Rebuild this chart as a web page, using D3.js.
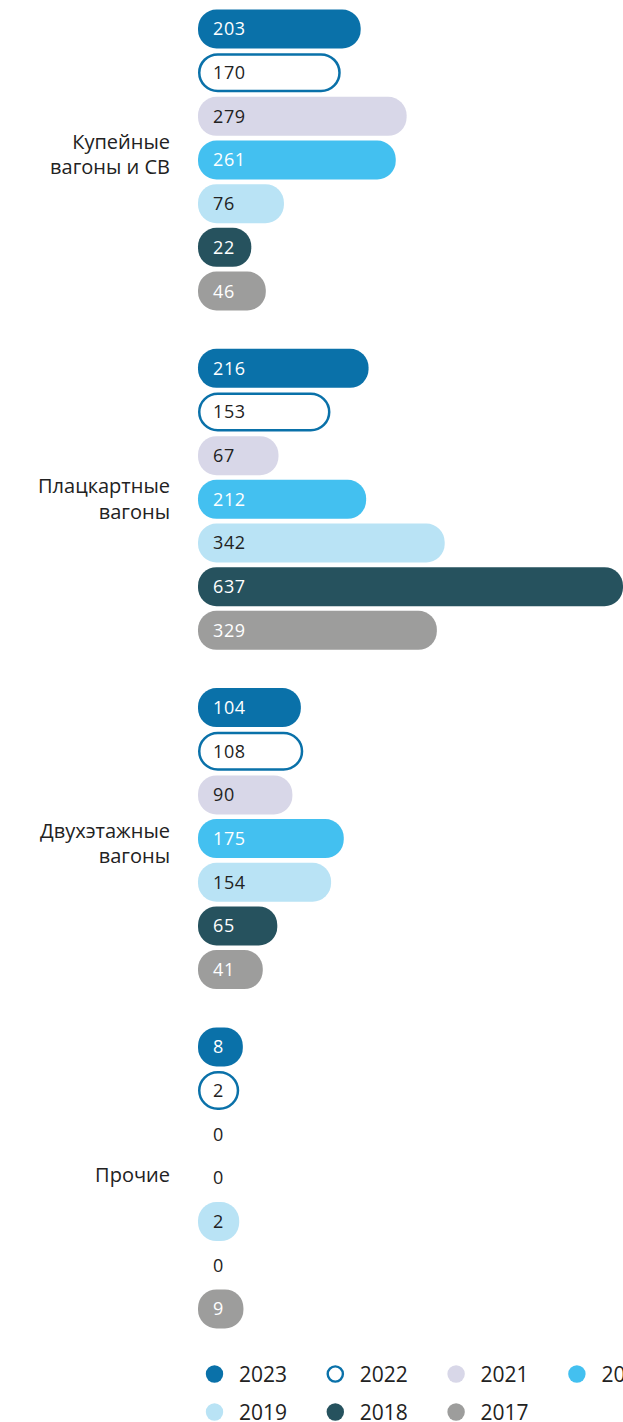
<!DOCTYPE html>
<html>
<head>
<meta charset="utf-8">
<script src="https://cdn.jsdelivr.net/npm/d3@7"></script>
<style>
  html, body { margin: 0; padding: 0; background: #fff; }
  svg { display: block; font-family: 'Open Sans', 'Noto Sans', sans-serif; }
</style>
</head>
<body>
<div id="chart"></div>
<script>
const categories = ['Купейные вагоны и СВ', 'Плацкартные вагоны', 'Двухэтажные вагоны', 'Прочие']
const categoryLines = [['Купейные', 'вагоны и СВ'], ['Плацкартные', 'вагоны'], ['Двухэтажные', 'вагоны'], ['Прочие']]
const years = ['2023', '2022', '2021', '2020', '2019', '2018', '2017']

const values2023 = [203, 216, 104, 8]
const values2022 = [170, 153, 108, 2]
const values2021 = [279, 67, 90, 0]
const values2020 = [261, 212, 175, 0]
const values2019 = [76, 342, 154, 2]
const values2018 = [22, 637, 65, 0]
const values2017 = [46, 329, 41, 9]

const seriesValues = {
  '2023': values2023, '2022': values2022, '2021': values2021, '2020': values2020,
  '2019': values2019, '2018': values2018, '2017': values2017
}

const BLUE = '#0a71a9'
const style = {
  '2023': { fill: BLUE, text: '#fff' },
  '2022': { fill: '#fff', stroke: BLUE, text: '#222' },
  '2021': { fill: '#d8d7e8', text: '#222' },
  '2020': { fill: '#43c0f0', text: '#fff' },
  '2019': { fill: '#b9e3f5', text: '#222' },
  '2018': { fill: '#26525e', text: '#fff' },
  '2017': { fill: '#9d9d9c', text: '#fff' }
}

const width = 623
const height = 1422
const barLeft = 198
const cap = 40

const svg = d3.select('#chart').append('svg')
  .attr('width', width).attr('height', height)
  .attr('viewBox', `0 0 ${width} ${height}`)

// value -> right edge of the pill (pill always has a rounded cap of ~40px)
const x = d3.scaleLinear().domain([0, 637]).range([barLeft + cap, 623])

const groupScale = d3.scaleBand().domain(categories).range([7.16, 7.16 + 4 * 339.3])
const rowScale = d3.scaleBand().domain(years).range([0, 7 * 43.67])
  .paddingInner(0.107).paddingOuter(0.0535)
const labelScale = d3.scalePoint().domain(categories).range([149, 149 + 3 * 344.4])

const records = []
categories.forEach((cat, ci) => {
  years.forEach(yr => records.push({ cat, yr, value: seriesValues[yr][ci] }))
})

const rows = svg.append('g').selectAll('g.row').data(records).join('g')
  .attr('class', 'row')
  .attr('transform', d => `translate(0,${groupScale(d.cat) + rowScale(d.yr)})`)

const bh = rowScale.bandwidth()

rows.filter(d => d.value > 0).append('rect')
  .attr('x', d => style[d.yr].stroke ? barLeft + 1.25 : barLeft)
  .attr('y', d => style[d.yr].stroke ? 1.25 : 0)
  .attr('width', d => x(d.value) - barLeft - (style[d.yr].stroke ? 2.5 : 0))
  .attr('height', d => bh - (style[d.yr].stroke ? 2.5 : 0))
  .attr('rx', 18.5).attr('ry', 18.5)
  .attr('fill', d => style[d.yr].fill)
  .attr('stroke', d => style[d.yr].stroke || 'none')
  .attr('stroke-width', 2.5)

rows.append('text')
  .attr('x', 213)
  .attr('y', bh / 2 + 6.5)
  .attr('fill', d => d.value > 0 ? style[d.yr].text : '#222')
  .style('font-size', '18px')
  .style('letter-spacing', '0.6px')
  .text(d => d.value)

// Category labels
const labels = svg.append('g').selectAll('text').data(categories).join('text')
  .attr('text-anchor', 'end')
  .attr('fill', '#222')
  .style('font-size', '20px')
labels.each(function (cat, i) {
  const t = d3.select(this)
  categoryLines[i].forEach((line, li) => {
    t.append('tspan').attr('x', 170).attr('y', labelScale(cat) + li * 25.3).text(line)
  })
})

// Legend
const legend = svg.append('g')
years.forEach((yr, i) => {
  const cx = 214.5 + (i % 4) * 120.8
  const cy = i < 4 ? 1374 : 1412
  const s = style[yr]
  legend.append('circle')
    .attr('cx', cx).attr('cy', cy)
    .attr('r', s.stroke ? 7.6 : 8.7)
    .attr('fill', s.fill)
    .attr('stroke', s.stroke || 'none')
    .attr('stroke-width', 2.4)
  legend.append('text')
    .attr('x', cx + 24.5).attr('y', cy + 8)
    .attr('fill', '#222')
    .style('font-size', '21px')
    .text(yr)
})
</script>
</body>
</html>
